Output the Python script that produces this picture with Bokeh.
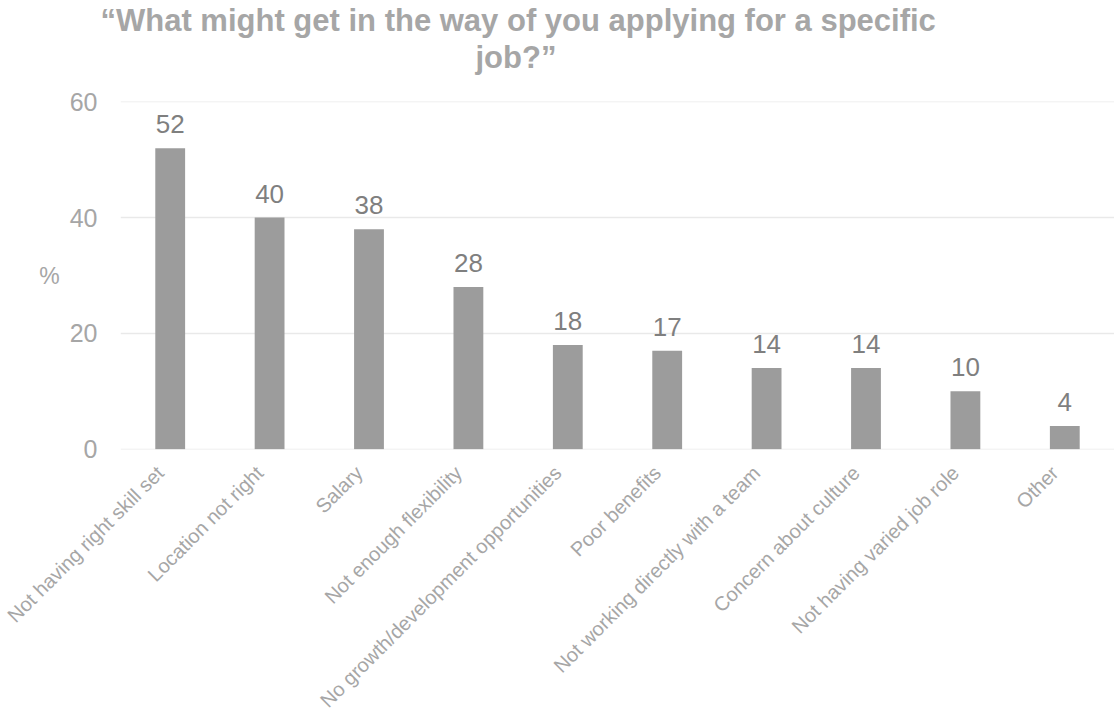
import math
from bokeh.plotting import figure
from bokeh.models import Range1d, ColumnDataSource, LabelSet, Title, FixedTicker
from bokeh.core.properties import value
from bokeh.embed import file_html
from bokeh.resources import INLINE

categories = [
    "Not having right skill set",
    "Location not right",
    "Salary",
    "Not enough flexibility",
    "No growth/development opportunities",
    "Poor benefits",
    "Not working directly with a team",
    "Concern about culture",
    "Not having varied job role",
    "Other",
]
values = [52, 40, 38, 28, 18, 17, 14, 14, 10, 4]
y_ticks = [0, 20, 40, 60]
title_lines = ["\u201cWhat might get in the way of you applying for a specific", "job?\u201d"]

FONT = "Liberation Sans"
TITLE_COLOR = "#a6a6a6"
LABEL_SHIFT = 0.1  # category labels sit slightly left of the bar centre

n = len(categories)
centres = [i + 0.5 for i in range(n)]  # slot centres on an index scale
src = ColumnDataSource(dict(x=centres, cat=categories, val=values, lab=[str(v) for v in values]))

p = figure(
    x_range=Range1d(0, n),
    y_range=Range1d(-0.06, 60.06),
    width=1114, height=722,
    output_backend="svg", toolbar_location=None,
    min_border_top=101, min_border_left=120, min_border_right=0, min_border_bottom=272,
)
p.outline_line_color = None
p.background_fill_color = "white"

p.vbar(x="x", top="val", width=0.3, source=src, fill_color="#9c9c9c", line_color=None)

labels = LabelSet(x="x", y="val", text="lab", source=src, text_align="center",
                  text_baseline="alphabetic", y_offset=15, text_font=value(FONT),
                  text_font_size="26px", text_color="#7f7f7f")
p.add_layout(labels)

# y axis
p.yaxis.ticker = FixedTicker(ticks=y_ticks)
p.yaxis.axis_line_color = None
p.yaxis.major_tick_line_color = None
p.yaxis.minor_tick_line_color = None
p.yaxis.major_label_text_font = FONT
p.yaxis.major_label_text_font_size = "25px"
p.yaxis.major_label_text_color = "#a6a6a6"
p.yaxis.major_label_standoff = 17
p.yaxis.axis_label = "%"
p.yaxis.axis_label_orientation = "horizontal"
p.yaxis.axis_label_text_font = FONT
p.yaxis.axis_label_text_font_style = "normal"
p.yaxis.axis_label_text_font_size = "23px"
p.yaxis.axis_label_text_color = "#a6a6a6"
p.yaxis.axis_label_standoff = 7

# x axis: category names, placed a little left of each bar centre
tick_pos = [round(c - LABEL_SHIFT, 2) for c in centres]
p.xaxis.ticker = FixedTicker(ticks=tick_pos)
p.xaxis.major_label_overrides = {t: c for t, c in zip(tick_pos, categories)}
p.xaxis.axis_line_color = None
p.xaxis.major_tick_line_color = None
p.xaxis.minor_tick_line_color = None
p.xaxis.major_label_orientation = math.pi / 4
p.xaxis.major_label_text_font = FONT
p.xaxis.major_label_text_font_size = "20px"
p.xaxis.major_label_text_color = "#a6a6a6"
p.xaxis.major_label_standoff = 14

p.xgrid.grid_line_color = None
p.ygrid.grid_line_color = "#e9e9e9"
p.ygrid.grid_line_width = 1.5

# title: two lines stacked above the frame, with a blank spacer between title and frame
p.title = Title(text=title_lines[0], align="left", offset=-20, text_font=FONT,
                text_font_style="bold", text_font_size="31px", text_color=TITLE_COLOR,
                standoff=0)
p.add_layout(Title(text=" ", align="left", text_font=FONT, text_font_size="22px",
                   text_color="white", standoff=0), "above")
p.add_layout(Title(text=title_lines[1], align="left", offset=355, text_font=FONT,
                   text_font_style="bold", text_font_size="31px", text_color=TITLE_COLOR,
                   standoff=0), "above")

open("out.html", "w").write(file_html(p, INLINE))
